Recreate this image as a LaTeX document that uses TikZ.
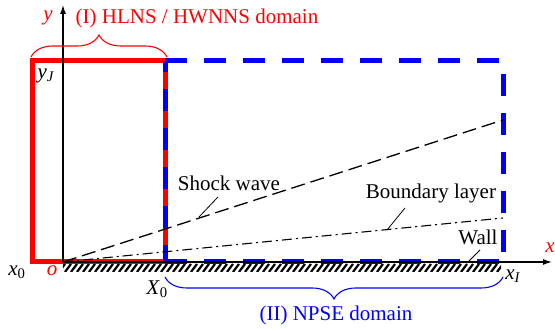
\documentclass[tikz,border=0pt]{standalone}
\usepackage{fontspec}
\setmainfont{Liberation Serif}
\usetikzlibrary{arrows.meta}
\usetikzlibrary{decorations.pathreplacing}
\newcommand{\vsub}[2]{\textit{#1}\textsubscript{#2}}

\tikzset{
  axisline/.style={line width=1.2pt, -{Latex[length=9pt,width=6pt]}},
  domainI/.style={draw=red, line width=5pt},
  domainII/.style={draw=blue, line width=5pt, dash pattern=on 22pt off 17pt},
  leader/.style={line width=0.8pt},
  bracedec/.style={decorate, decoration={brace, amplitude=22pt}, line width=1.1pt}
}

\begin{document}
\begin{tikzpicture}[x=1pt, y=1pt, font=\fontsize{21}{25}\selectfont]
\useasboundingbox (-63pt,-67pt) rectangle (492pt,262pt);
% origin and domains
\coordinate (o) at (0pt,0pt);
\coordinate (xend) at (489pt,0pt);
\coordinate (yend) at (0pt,257pt);
\draw[domainI] (-30pt,0pt) rectangle (102pt,201pt);
\draw[domainII] (102pt,0pt) -- (440pt,0pt);
\draw[domainII] (102pt,201pt) -- (440pt,201pt) -- (440pt,0pt);
\draw[domainII, dash phase=11pt] (102pt,201pt) -- (102pt,0pt);
% wall hatching
\begin{scope}
\clip (0pt,-2pt) rectangle (438pt,-10pt);
\foreach \h in {0,6,...,444}
  {\draw[line width=2.2pt] (\h pt-4pt,-10pt) -- (\h pt+2pt,-2pt);}
\end{scope}
% axes
\draw[axisline] (o) -- (xend);
\draw[axisline] (o) -- (yend);
% shock wave and boundary layer
\coordinate (swend) at (440pt,142pt);
\coordinate (blend) at (440pt,44pt);
\draw[line width=1.3pt, dash pattern=on 14pt off 6pt] (o) -- (swend);
\draw[line width=1.1pt, dash pattern=on 10pt off 4pt on 2pt off 4pt] (o) -- (blend);
\node (shock) at (166pt,79pt) {Shock wave};
\node (bl) at (368pt,69pt) {Boundary layer};
\node (wall) at (415pt,25pt) {Wall};
\coordinate (swa) at (155pt,65pt);
\coordinate (swb) at (136pt,45pt);
\coordinate (bla) at (342pt,54pt);
\coordinate (blb) at (324pt,32pt);
\coordinate (wla) at (417pt,12pt);
\coordinate (wlb) at (404pt,-1pt);
\draw[leader] (swa) -- (swb);
\draw[leader] (bla) -- (blb);
\draw[leader] (wla) -- (wlb);
% labels
\node[text=red] (olbl) at (-11pt,-9pt) {\textit{o}};
\node (x0) at (-46pt,-10pt) {\vsub{x}{0}};
\node (X0) at (94pt,-27pt) {\vsub{X}{0}};
\node (xI) at (450pt,-14pt) {\vsub{x}{\textit{I}}};
\node (yJ) at (-17pt,186pt) {\vsub{y}{\textit{J}}};
\node[text=red] (ylbl) at (-15pt,244pt) {\textit{y}};
\node[text=red] (xlbl) at (487pt,14pt) {\textit{x}};
% braces
\coordinate (bIa) at (-32pt,205pt);
\coordinate (bIb) at (104pt,205pt);
\coordinate (bIIa) at (440pt,-15pt);
\coordinate (bIIb) at (102pt,-15pt);
\draw[bracedec, draw=red] (bIa) -- (bIb);
\draw[bracedec, draw=blue] (bIIa) -- (bIIb);
\node[text=red] (domI) at (134pt,244pt) {(I) HLNS / HWNNS domain};
\node[text=blue] (domII) at (273pt,-53pt) {(II) NPSE domain};
\end{tikzpicture}
\end{document}
